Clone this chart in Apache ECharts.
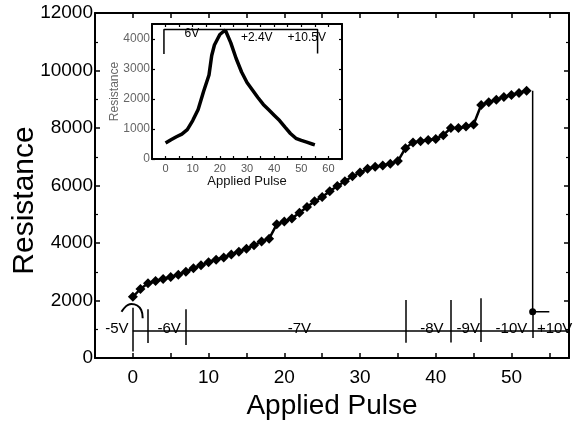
<!DOCTYPE html>
<html><head><meta charset="utf-8">
<script src="https://cdn.jsdelivr.net/npm/echarts@6/dist/echarts.min.js"></script>
<style>html,body{margin:0;padding:0;background:#fff}#c{width:573px;height:431px}</style>
</head><body><div id="c"></div>
<script>
// ---- main chart data ----
const mainResistance = [2130,2400,2600,2680,2750,2820,2900,3000,3120,3230,
  3330,3420,3500,3600,3700,3800,3920,4050,4150,4650,
  4750,4850,5050,5250,5450,5600,5800,5980,6150,6320,
  6450,6580,6650,6700,6760,6850,7300,7500,7540,7580,
  7620,7750,8000,8000,8050,8120,8800,8900,8980,9080,
  9150,9220,9300];
const dropPulse = [52.8, 52.8, 55];
const dropResistance = [9300, 1610, 1610];
const arcPulse = [-1.5, -0.2, 1.1, 1.3];
const arcResistance = [1610, 1880, 1670, 1380];
const phaseBoundaryX = [0, 2, 7, 36, 42, 46, 52.8];
const phaseBoundaryTop = [1750, 1700, 1700, 2020, 2020, 2080, 1630];
const phaseBoundaryBottom = [230, 520, 450, 530, 540, 560, 700];
const phaseLineY = 940;
const phaseLabelX = [-2.1, 4.8, 22, 39.5, 44.3, 50, 55.7];
const phaseLabelY = 1010;
const phaseLabels = ['-5V', '-6V', '-7V', '-8V', '-9V', '-10V', '+10V'];
const xLabelTicks = [0, 10, 20, 30, 40, 50];
const xAllTicks = [0, 5, 10, 15, 20, 25, 30, 35, 40, 45, 50, 55];
const yLabelTicks = [0, 2000, 4000, 6000, 8000, 10000, 12000];

// ---- inset data ----
const insetPulse = [0,2,4,6,8,10,12,14,16,17,18,20,22,24,26,28,30,32,34,36,38,40,42,44,46,48,50,52,54,55];
const insetResistance = [530,640,740,830,980,1280,1650,2250,2800,3450,3800,4150,4300,3880,3350,2900,2550,2300,2050,1820,1640,1460,1280,1060,850,690,620,560,500,470];
const insetBracketX = [-0.6, -0.6, 56, 56];
const insetBracketY = [3500, 4320, 4320, 3520];
const insetTextX = [9.7, 33.6, 52];
const insetTextY = [4180, 4050, 4050];
const insetTexts = ['6V', '+2.4V', '+10.5V'];
const insetXLabelTicks = [0, 10, 20, 30, 40, 50, 60];
const insetXAllTicks = [0,5,10,15,20,25,30,35,40,45,50,55,60];
const insetYLabelTicks = [0, 1000, 2000, 3000, 4000];

const FONT = 'Liberation Sans, Arial, sans-serif';
const chart = echarts.init(document.getElementById('c'), null, {renderer: 'canvas'});

const lineStyleAxis = {color: '#000', width: 2};
function mainPoints() { return mainResistance.map((v, i) => [i, v]); }
function zip(a, b) { return a.map((v, i) => [v, b[i]]); }
const plain = v => String(v);

const option = {
  animation: false,
  backgroundColor: '#fff',
  grid: [
    {left: 95, top: 13, right: 4, bottom: 73, containLabel: false, outerBoundsMode: 'none'},
    {left: 152, top: 24, width: 190, height: 135, show: true, backgroundColor: '#fff', borderWidth: 0, z: 5,
     containLabel: false, outerBoundsMode: 'none'}
  ],
  xAxis: [
    {gridIndex: 0, type: 'value', min: -5, max: 57.6, position: 'bottom',
     name: 'Applied Pulse', nameLocation: 'middle', nameGap: 34, nameMoveOverlap: false,
     nameTextStyle: {fontFamily: FONT, fontSize: 28, color: '#000'},
     axisLine: {show: true, onZero: false, lineStyle: lineStyleAxis},
     axisTick: {inside: true, length: 5, customValues: xAllTicks, lineStyle: {color: '#000', width: 1.5}},
     axisLabel: {customValues: xLabelTicks, formatter: plain, margin: 10, fontFamily: FONT, fontSize: 19, color: '#000'},
     splitLine: {show: false}},
    {gridIndex: 0, type: 'value', min: -5, max: 57.6, position: 'top',
     axisLine: {show: true, onZero: false, lineStyle: lineStyleAxis},
     axisTick: {inside: true, length: 5, customValues: xAllTicks, lineStyle: {color: '#000', width: 1.5}},
     axisLabel: {show: false}, splitLine: {show: false}},
    {gridIndex: 1, type: 'value', min: -5, max: 65, position: 'bottom',
     name: 'Applied Pulse', nameLocation: 'middle', nameGap: 16, nameMoveOverlap: false,
     nameTextStyle: {fontFamily: FONT, fontSize: 13, color: '#111'},
     axisLine: {show: true, onZero: false, lineStyle: lineStyleAxis},
     axisTick: {inside: true, length: 3, customValues: insetXAllTicks, lineStyle: {color: '#000', width: 1.2}},
     axisLabel: {customValues: insetXLabelTicks, formatter: plain, margin: 4, fontFamily: FONT, fontSize: 11, color: '#555'},
     splitLine: {show: false}, z: 6},
    {gridIndex: 1, type: 'value', min: -5, max: 65, position: 'top',
     axisLine: {show: true, onZero: false, lineStyle: lineStyleAxis},
     axisTick: {inside: true, length: 3, customValues: insetXAllTicks, lineStyle: {color: '#000', width: 1.2}},
     axisLabel: {show: false}, splitLine: {show: false}, z: 6}
  ],
  yAxis: [
    {gridIndex: 0, type: 'value', min: 0, max: 12000, interval: 2000, position: 'left',
     name: 'Resistance', nameLocation: 'middle', nameGap: 55, nameMoveOverlap: false,
     nameTextStyle: {fontFamily: FONT, fontSize: 30, color: '#000', padding: [0, 30, 0, 0]},
     axisLine: {show: true, onZero: false, lineStyle: lineStyleAxis},
     axisTick: {inside: true, length: 5, lineStyle: {color: '#000', width: 1.5}},
     minorTick: {show: true, splitNumber: 2, length: 3, lineStyle: {color: '#000', width: 1.2}},
     axisLabel: {customValues: yLabelTicks, formatter: plain, margin: 2, fontFamily: FONT, fontSize: 19, color: '#000'},
     splitLine: {show: false}},
    {gridIndex: 0, type: 'value', min: 0, max: 12000, interval: 2000, position: 'right',
     axisLine: {show: true, onZero: false, lineStyle: lineStyleAxis},
     axisTick: {inside: true, length: 5, lineStyle: {color: '#000', width: 1.5}},
     minorTick: {show: true, splitNumber: 2, length: 3, lineStyle: {color: '#000', width: 1.2}},
     axisLabel: {show: false}, splitLine: {show: false}},
    {gridIndex: 1, type: 'value', min: 0, max: 4500, interval: 500, position: 'left',
     name: 'Resistance', nameLocation: 'middle', nameGap: 31, nameMoveOverlap: false,
     nameTextStyle: {fontFamily: FONT, fontSize: 12, color: '#666'},
     axisLine: {show: true, onZero: false, lineStyle: lineStyleAxis},
     axisTick: {inside: true, length: 3, customValues: insetYLabelTicks, lineStyle: {color: '#000', width: 1.2}},
     axisLabel: {customValues: insetYLabelTicks, formatter: plain, margin: 2, fontFamily: FONT, fontSize: 12, color: '#666'},
     splitLine: {show: false}, z: 6},
    {gridIndex: 1, type: 'value', min: 0, max: 4500, interval: 500, position: 'right',
     axisLine: {show: true, onZero: false, lineStyle: lineStyleAxis},
     axisTick: {inside: true, length: 3, customValues: insetYLabelTicks, lineStyle: {color: '#000', width: 1.2}},
     axisLabel: {show: false}, splitLine: {show: false}, z: 6}
  ],
  series: [
    {type: 'line', xAxisIndex: 0, yAxisIndex: 0, data: mainPoints(),
     symbol: 'diamond', symbolSize: 10, showSymbol: true,
     itemStyle: {color: '#000'}, lineStyle: {color: '#000', width: 2.5}, z: 3},
    {type: 'line', xAxisIndex: 0, yAxisIndex: 0, data: zip(dropPulse, dropResistance),
     symbol: 'none', lineStyle: {color: '#000', width: 1.5}, z: 3},
    {type: 'scatter', xAxisIndex: 0, yAxisIndex: 0, data: [[dropPulse[1], dropResistance[1]]],
     symbol: 'circle', symbolSize: 7, itemStyle: {color: '#000', opacity: 1}, z: 4},
    {type: 'line', xAxisIndex: 0, yAxisIndex: 0, data: zip(arcPulse, arcResistance),
     smooth: true, symbol: 'none', lineStyle: {color: '#000', width: 2}, z: 3},
    {type: 'lines', coordinateSystem: 'cartesian2d', xAxisIndex: 0, yAxisIndex: 0,
     lineStyle: {color: '#000', width: 1.5, opacity: 1},
     data: phaseBoundaryX.map((x, i) => ({coords: [[x, phaseBoundaryTop[i]], [x, phaseBoundaryBottom[i]]]}))
       .concat([{coords: [[phaseBoundaryX[0], phaseLineY], [57.6, phaseLineY]]}]), z: 3},
    {type: 'scatter', xAxisIndex: 0, yAxisIndex: 0, symbolSize: 0, itemStyle: {opacity: 1},
     data: phaseLabelX.map((x, i) => ({value: [x, phaseLabelY], name: phaseLabels[i]})),
     label: {show: true, position: 'inside', formatter: p => p.name,
       fontFamily: FONT, fontSize: 15, color: '#000', textBorderWidth: 0}, z: 4},
    // inset
    {type: 'line', xAxisIndex: 2, yAxisIndex: 2, data: zip(insetPulse, insetResistance),
     symbol: 'none', lineStyle: {color: '#000', width: 3.5}, z: 7},
    {type: 'line', xAxisIndex: 2, yAxisIndex: 2, data: zip(insetBracketX, insetBracketY),
     symbol: 'none', lineStyle: {color: '#000', width: 1.5}, z: 7},
    {type: 'scatter', xAxisIndex: 2, yAxisIndex: 2, symbolSize: 0, itemStyle: {opacity: 1},
     data: insetTextX.map((x, i) => ({value: [x, insetTextY[i]], name: insetTexts[i]})),
     label: {show: true, position: 'inside', formatter: p => p.name,
       fontFamily: FONT, fontSize: 12, color: '#000', textBorderWidth: 0}, z: 8}
  ]
};
chart.setOption(option);
</script></body></html>
